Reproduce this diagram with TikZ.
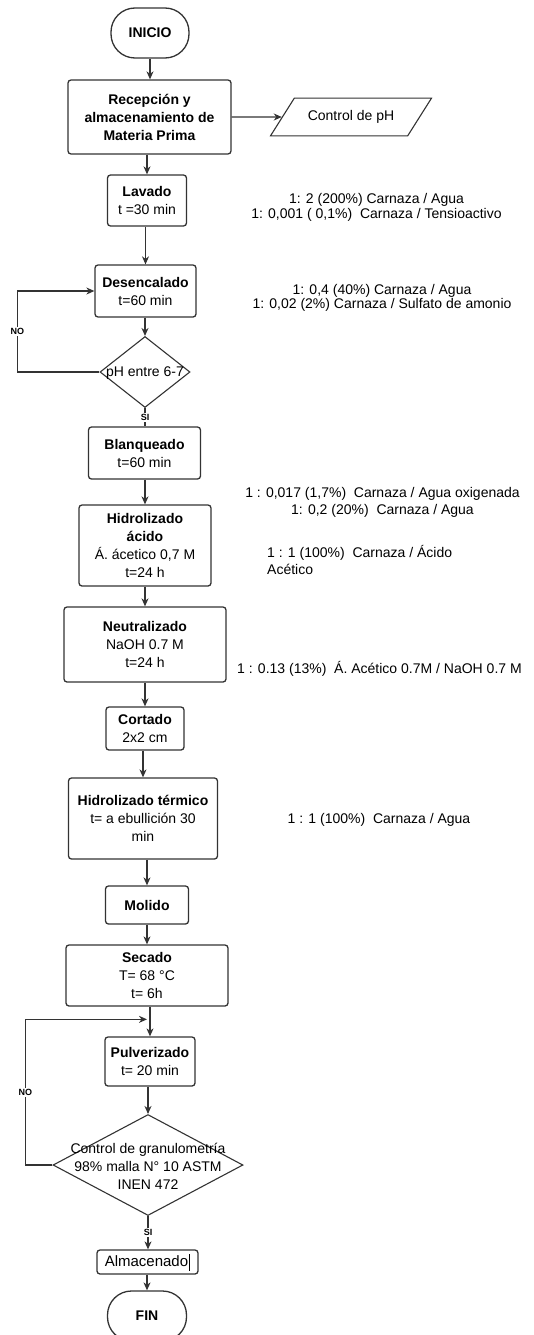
\documentclass[tikz,border=0pt]{standalone}
\usepackage{fontspec}
\setmainfont{Liberation Sans}
\usetikzlibrary{arrows.meta,shapes.geometric}
\definecolor{edge}{HTML}{333333}
\begin{document}
\begin{tikzpicture}[x=1pt,y=-1pt,
  font=\fontsize{14}{18}\selectfont,
  box/.style={draw=edge, line width=1.3pt, rounded corners=3pt, align=center, inner sep=0pt},
  term/.style={draw=edge, line width=1.3pt, rounded corners=24pt, align=center, inner sep=0pt},
  dec/.style={diamond, draw=edge, line width=1.1pt, inner sep=0pt},
  io/.style={trapezium, trapezium left angle=57.7, trapezium right angle=122.3, draw=edge, line width=1.1pt, inner xsep=13.5pt, inner ysep=12.3pt},
  arr/.style={draw=edge, line width=1.1pt, -{Stealth[length=8pt,width=7pt,inset=2.5pt]}},
  plain/.style={draw=edge, line width=1.1pt},
  note/.style={align=center, inner sep=0pt},
  yn/.style={font=\bfseries\fontsize{9}{9}\selectfont, fill=white, inner sep=1.5pt},
]
\useasboundingbox (0,0) rectangle (534,1335);
\clip (0,0) rectangle (534,1335);

% main flow
\node[term, minimum width=78, minimum height=50] (inicio) at (150,33) {\textbf{INICIO}};
\node[box, minimum width=163, minimum height=74] (recep) at (149.5,117)
  {\textbf{Recepción y}\\\textbf{almacenamiento de}\\\textbf{Materia Prima}};
\node[io] (ctrl) at (351,117) {Control de pH};
\node[box, minimum width=79, minimum height=51] (lavado) at (147,200.5)
  {\textbf{Lavado}\\t =30 min};
\node[box, minimum width=101, minimum height=52] (desenc) at (145.5,291)
  {\textbf{Desencalado}\\t=60 min};
\node[dec, minimum width=90, minimum height=71] (d1) at (145,372) {};
\node[inner sep=0pt] (d1t) at (145,373) {pH entre 6-7};
\node[box, minimum width=112, minimum height=52] (blanq) at (144.5,453)
  {\textbf{Blanqueado}\\t=60 min};
\node[box, minimum width=132, minimum height=81] (hidac) at (145,545.5)
  {\textbf{Hidrolizado}\\\textbf{ácido}\\Á. ácetico 0,7 M\\t=24 h};
\node[box, minimum width=162, minimum height=75] (neutr) at (145,644.5)
  {\textbf{Neutralizado}\\NaOH 0.7 M\\t=24 h};
\node[box, minimum width=78, minimum height=43] (cort) at (145,728.5)
  {\textbf{Cortado}\\2x2 cm};
\node[box, minimum width=149, minimum height=81] (hidter) at (143,818.5)
  {\textbf{Hidrolizado térmico}\\t= a ebullición 30\\min};
\node[box, minimum width=83, minimum height=38] (molido) at (147,905) {\textbf{Molido}};
\node[box, minimum width=162, minimum height=61] (secado) at (147,975.5)
  {\textbf{Secado}\\T= 68 °C\\t= 6h};
\node[box, minimum width=90, minimum height=49] (pulv) at (150,1061.5)
  {\textbf{Pulverizado}\\t= 20 min};
\node[dec, minimum width=190, minimum height=101] (d2) at (148,1165) {};
\node[align=center, inner sep=0pt] (d2t) at (148,1166)
  {Control de granulometría\\98\% malla N° 10 ASTM\\INEN 472};
\node[box, minimum width=101, minimum height=24, font=\fontsize{15}{18}\selectfont] (alm) at (147.5,1262)
  {Almacenado\hspace{1pt}\rule[-4pt]{1pt}{17pt}};
\node[term, minimum width=79, minimum height=50] (fin) at (147,1316) {\textbf{FIN}};

% notes
\node[note, font=\fontsize{14}{15}\selectfont] (n1) at (376.5,207.5)
  {1: 2 (200\%) Carnaza / Agua\\1: 0,001 ( 0,1\%)\ \ Carnaza / Tensioactivo};
\node[note, font=\fontsize{14}{13}\selectfont] (n2) at (382,298)
  {1: 0,4 (40\%) Carnaza / Agua\\1: 0,02 (2\%) Carnaza / Sulfato de amonio};
\node[note, font=\fontsize{14}{17}\selectfont] (n3) at (382.5,502.5)
  {1 : 0,017 (1,7\%)\ \ Carnaza / Agua oxigenada\\1: 0,2 (20\%)\ \ Carnaza / Agua};
\node[note, align=left, anchor=west, font=\fontsize{14}{17}\selectfont] (n4) at (267,559.5)
  {1 : 1 (100\%)\ \ Carnaza / Ácido\\Acético};
\node[note] (n5) at (379.5,669) {1 : 0.13 (13\%)\ \ Á. Acético 0.7M / NaOH 0.7 M};
\node[note] (n6) at (379,820) {1 : 1 (100\%)\ \ Carnaza / Agua};

% connectors
\draw[arr] (inicio.south) -- (inicio.south |- recep.north);
\draw[arr] (recep) -- (ctrl);
\draw[arr] (lavado.north |- recep.south) -- (lavado.north);
\draw[arr] (desenc.north |- lavado.south) -- (desenc.north);
\draw[arr] (d1.north |- desenc.south) -- (d1.north);
\draw[plain] (d1.south) -- (d1.south |- blanq.north) node[midway, yn] {SI};
\draw[arr] (d1.west) -- ++(-82,0) |- (desenc.west) node[pos=0.25, yn] {NO};
\draw[arr] (hidac.north |- blanq.south) -- (hidac.north);
\draw[arr] (neutr.north |- hidac.south) -- (neutr.north);
\draw[arr] (cort.north |- neutr.south) -- (cort.north);
\draw[arr] (hidter.north |- cort.south) -- (hidter.north);
\draw[arr] (molido.north |- hidter.south) -- (molido.north);
\draw[arr] (secado.north |- molido.south) -- (secado.north);
\draw[arr] (pulv.north |- secado.south) -- (pulv.north);
\coordinate (j2) at ([xshift=-3pt,yshift=17pt]pulv.north);
\draw[arr] (d2.west) -- ++(-27,0) |- (j2) node[pos=0.25, yn] {NO};
\draw[arr] (d2.north |- pulv.south) -- (d2.north);
\draw[arr] (d2.south) -- (d2.south |- alm.north) node[midway, yn] {SI};
\draw[arr] (fin.north |- alm.south) -- (fin.north);
\end{tikzpicture}
\end{document}
